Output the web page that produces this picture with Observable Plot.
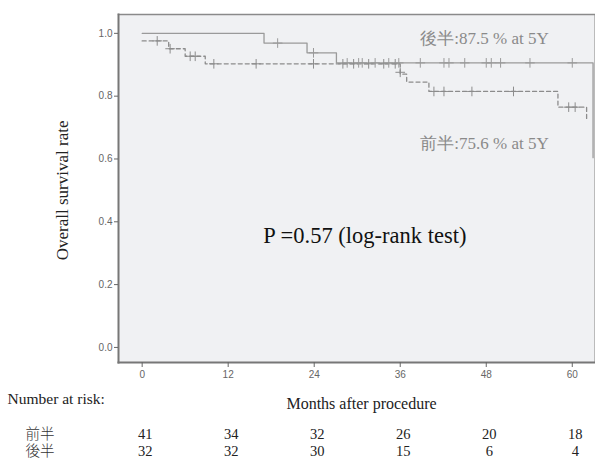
<!DOCTYPE html>
<html>
<head>
<meta charset="utf-8">
<script src="https://cdn.jsdelivr.net/npm/d3@7"></script>
<script src="https://cdn.jsdelivr.net/npm/@observablehq/plot@0.6"></script>
<style>
  html, body { margin: 0; padding: 0; background: #fff; }
</style>
</head>
<body>
<div id="chart"></div>
<script>
// Axis ticks
const monthTicks = [0, 12, 24, 36, 48, 60];
const survTicks = [0, 0.2, 0.4, 0.6, 0.8, 1.0];

// Groups and number at risk
const groups = ["前半", "後半"];
const riskEarly = [41, 34, 32, 26, 20, 18];
const riskLate = [32, 32, 30, 15, 6, 4];

// 後半 (solid) step curve
const lateTimes = [0, 17.0, 23.0, 27.1, 62.9];
const lateSurv = [1.0, 0.969, 0.938, 0.906, 0.604];
// 後半 censored
const lateCensT = [18.9, 23.9, 28.6, 30.2, 30.7, 32.5, 34.4, 35.8, 38.8, 42.1, 42.8, 45.0, 48.0, 48.7, 50.0, 54.1, 60.0];
const lateCensS = [0.969, 0.938, 0.906, 0.906, 0.906, 0.906, 0.906, 0.906, 0.906, 0.906, 0.906, 0.906, 0.906, 0.906, 0.906, 0.906, 0.906];

// 前半 (dashed) step curve
const earlyTimes = [0, 3.7, 6.0, 8.8, 36.0, 36.9, 40.0, 58.0, 62.0];
const earlySurv = [0.976, 0.951, 0.927, 0.903, 0.870, 0.845, 0.815, 0.765, 0.72];
// 前半 censored
const earlyCensT = [2.1, 3.9, 6.7, 7.4, 10.0, 15.9, 23.9, 28.0, 29.5, 31.6, 33.7, 35.3, 36.0, 40.7, 42.1, 46.0, 51.8, 59.5, 60.4];
const earlyCensS = [0.976, 0.951, 0.927, 0.927, 0.903, 0.903, 0.903, 0.903, 0.903, 0.903, 0.903, 0.903, 0.876, 0.815, 0.815, 0.815, 0.815, 0.765, 0.765];

// Annotations
const annotations = [
  {label: "後半:87.5 % at 5Y", t: 38.8, s: 0.984},
  {label: "前半:75.6 % at 5Y", t: 38.8, s: 0.650}
];
const pText = {label: "P =0.57 (log-rank test)", t: 16.9, s: 0.354};
const yLabel = {label: "Overall survival rate", t: -11.1, s: 0.5};

const lateCurve = lateTimes.map((t, i) => ({t, s: lateSurv[i]}));
const earlyCurve = earlyTimes.map((t, i) => ({t, s: earlySurv[i]}));
const lateCens = lateCensT.map((t, i) => ({t, s: lateCensS[i]}));
const earlyCens = earlyCensT.map((t, i) => ({t, s: earlyCensS[i]}));
const riskRows = [];
monthTicks.forEach((m, i) => {
  riskRows.push({t: m, n: riskEarly[i], row: 0});
  riskRows.push({t: m, n: riskLate[i], row: 1});
});

const serif = "'Liberation Serif', 'Times New Roman', serif";
const sans = "'Liberation Sans', Arial, sans-serif";
const cjkSerif = "'Liberation Serif', 'Noto Sans CJK JP', serif";

const chart = Plot.plot({
  width: 595,
  height: 459,
  marginLeft: 118,
  marginRight: 1,
  marginTop: 14,
  marginBottom: 97,
  x: {domain: [-3.3, 63.1]},
  y: {domain: [-0.048, 1.06]},
  style: {background: "#fff", overflow: "visible"},
  marks: [
    Plot.frame({fill: "#f0f1f3", stroke: "#bbb", strokeWidth: 1}),
    Plot.frame({anchor: "top", stroke: "#8a8a8a", strokeWidth: 1.5}),
    Plot.frame({anchor: "left", stroke: "#777", strokeWidth: 2}),
    Plot.frame({anchor: "bottom", stroke: "#777", strokeWidth: 2}),
    Plot.axisY(survTicks, {
      tickSize: 4, tickPadding: 2, tickFormat: d3.format(".1f"),
      label: null, fontSize: 10, fontFamily: sans, color: "#666"
    }),
    Plot.axisX(monthTicks, {
      tickSize: 5, tickPadding: 3, label: null,
      fontSize: 10, fontFamily: sans, color: "#666"
    }),
    Plot.line(earlyCurve, {x: "t", y: "s", curve: "step-after", stroke: "#8c8c8c", strokeWidth: 1.3, strokeDasharray: "4,3"}),
    Plot.line(lateCurve, {x: "t", y: "s", curve: "step-after", stroke: "#9a9a9a", strokeWidth: 1.3}),
    Plot.dot(earlyCens, {x: "t", y: "s", symbol: "plus", r: 3.2, stroke: "#8c8c8c", strokeWidth: 1}),
    Plot.dot(lateCens, {x: "t", y: "s", symbol: "plus", r: 3.2, stroke: "#9a9a9a", strokeWidth: 1}),
    Plot.text(annotations, {x: "t", y: "s", text: "label", textAnchor: "start", fontSize: 17, fontFamily: serif, fill: "#8a8a8a"}),
    Plot.text([pText], {x: "t", y: "s", text: "label", textAnchor: "start", fontSize: 22.5, fontFamily: serif, fill: "#111"}),
    // y axis label
    Plot.text([yLabel], {x: "t", y: "s", text: "label", rotate: -90, fontSize: 17, fontFamily: serif, fill: "#222"}),
    // below-plot texts
    Plot.text(["Number at risk:"], {frameAnchor: "bottom-left", dx: -111, dy: 41, textAnchor: "start", fontSize: 15.5, fontFamily: serif, fill: "#222"}),
    Plot.text(["Months after procedure"], {frameAnchor: "bottom", dy: 46, dx: 5, fontSize: 16, fontFamily: serif, fill: "#222"}),
    Plot.text(riskRows.filter(d => d.row === 0), {x: "t", text: "n", frameAnchor: "bottom", dy: 76, dx: 3, fontSize: 14.5, fontFamily: serif, fill: "#222"}),
    Plot.text(riskRows.filter(d => d.row === 1), {x: "t", text: "n", frameAnchor: "bottom", dy: 93, dx: 3, fontSize: 14.5, fontFamily: serif, fill: "#222"}),
    Plot.text([groups[0]], {frameAnchor: "bottom-left", dx: -93, dy: 76, textAnchor: "start", fontSize: 14.5, fontFamily: cjkSerif, fontWeight: 300, fill: "#333"}),
    Plot.text([groups[1]], {frameAnchor: "bottom-left", dx: -93, dy: 93, textAnchor: "start", fontSize: 14.5, fontFamily: cjkSerif, fontWeight: 300, fill: "#333"})
  ]
});
document.getElementById("chart").appendChild(chart);
</script>
</body>
</html>
